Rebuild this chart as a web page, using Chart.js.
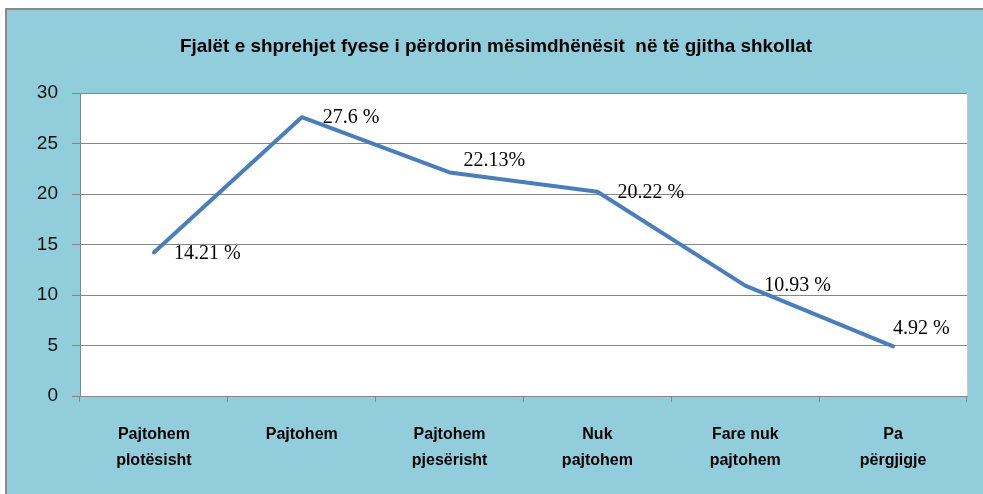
<!DOCTYPE html>
<html>
<head>
<meta charset="utf-8">
<script src="https://cdn.jsdelivr.net/npm/chart.js@4/dist/chart.umd.min.js"></script>
<style>
  html, body { margin: 0; padding: 0; background: #fff; }
  canvas { display: block; }
</style>
</head>
<body>
<canvas id="chart" width="983" height="494"></canvas>
<script>
// data
const chartTitle = 'Fjalët e shprehjet fyese i përdorin mësimdhënësit  në të gjitha shkollat';
const categories = [
  ['Pajtohem', 'plotësisht'],
  ['Pajtohem'],
  ['Pajtohem', 'pjesërisht'],
  ['Nuk', 'pajtohem'],
  ['Fare nuk', 'pajtohem'],
  ['Pa', 'përgjigje']
];
const values = [14.21, 27.6, 22.13, 20.22, 10.93, 4.92];
const valueLabels = ['14.21 %', '27.6 %', '22.13%', '20.22 %', '10.93 %', '4.92 %'];
const yTicks = [0, 5, 10, 15, 20, 25, 30];

// where each value label sits relative to its point (dx, dy)
const labelOffsets = [[20, 1], [21, 1], [14, -12], [20, 1], [19, 0], [0, -18]];

const frame = {
  id: 'frame',
  beforeDraw(chart) {
    const c = chart.ctx;
    const a = chart.chartArea;
    c.save();
    c.fillStyle = '#ffffff';
    c.fillRect(0, 0, chart.width, chart.height);
    c.fillStyle = '#92cddc';
    c.fillRect(7, 10, chart.width - 7, chart.height - 10);
    c.fillStyle = '#8a8a8a';
    c.fillRect(5, 8, chart.width - 5, 2);
    c.fillRect(5, 8, 2, chart.height - 8);
    c.fillStyle = '#ffffff';
    c.fillRect(a.left, a.top, a.right - a.left, a.bottom - a.top);
    c.strokeStyle = '#c8c8c8';
    c.lineWidth = 1;
    c.beginPath();
    c.moveTo(a.right + 0.5, a.top);
    c.lineTo(a.right + 0.5, a.bottom);
    c.stroke();
    // title
    c.fillStyle = '#000';
    c.font = 'bold 19px "Liberation Sans"';
    c.textAlign = 'center';
    c.textBaseline = 'middle';
    c.fillText(chartTitle, 496, 47, 632);
    c.restore();
  }
};

const valueTags = {
  id: 'valueTags',
  afterDatasetsDraw(chart) {
    const c = chart.ctx;
    const pts = chart.getDatasetMeta(0).data;
    c.save();
    c.fillStyle = '#000';
    c.font = '20px "Liberation Serif"';
    c.textAlign = 'left';
    c.textBaseline = 'middle';
    pts.forEach((p, i) => {
      const off = labelOffsets[i];
      c.fillText(valueLabels[i], p.x + off[0], p.y + off[1]);
    });
    c.restore();
  }
};

new Chart(document.getElementById('chart'), {
  type: 'line',
  data: {
    labels: categories,
    datasets: [{
      data: values,
      borderColor: '#4a7ebb',
      borderWidth: 4,
      borderCapStyle: 'round',
      borderJoinStyle: 'round',
      pointRadius: 0,
      tension: 0,
      fill: false
    }]
  },
  options: {
    responsive: false,
    animation: false,
    layout: { padding: { left: 0, top: 93, right: 16, bottom: 0 } },
    plugins: {
      legend: { display: false },
      title: { display: false },
      tooltip: { enabled: false }
    },
    scales: {
      x: {
        offset: true,
        afterFit(scale) { scale.height = 98; },
        border: { color: '#868686', width: 1 },
        grid: {
          offset: true,
          drawOnChartArea: false,
          drawTicks: true,
          tickLength: 6,
          color: '#868686'
        },
        ticks: {
          color: '#000',
          padding: 20,
          maxRotation: 0,
          font: { family: 'Liberation Sans', size: 16, weight: 'bold', lineHeight: 1.6 }
        }
      },
      y: {
        min: 0,
        max: 30,
        afterFit(scale) { scale.width = 80; },
        afterBuildTicks(scale) { scale.ticks = yTicks.map(v => ({ value: v })); },
        border: { color: '#868686', width: 1 },
        grid: {
          color: '#868686',
          lineWidth: 1,
          drawTicks: true,
          tickLength: 8
        },
        ticks: {
          color: '#111',
          padding: 14,
          font: { family: 'Liberation Sans', size: 19 }
        }
      }
    }
  },
  plugins: [frame, valueTags]
});
</script>
</body>
</html>
